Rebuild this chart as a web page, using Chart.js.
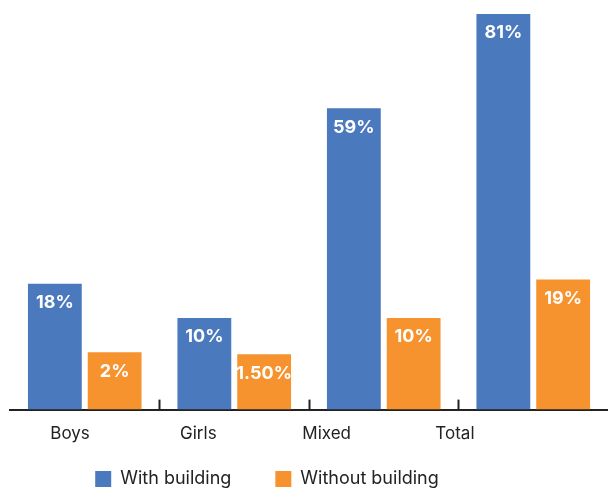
<!DOCTYPE html>
<html>
<head>
<meta charset="utf-8">
<script src="https://cdn.jsdelivr.net/npm/chart.js@4.4.1/dist/chart.umd.min.js"></script>
<style>
  html, body { margin: 0; padding: 0; background: #fff; overflow: hidden; }
  #wrap { width: 608px; height: 542px; }
</style>
</head>
<body>
<div id="wrap"><canvas id="myChart"></canvas></div>
<script>
const categories = ['Boys', 'Girls', 'Mixed', 'Total'];
const withBuilding = [18, 10, 59, 81];
const withoutBuilding = [2, 1.5, 10, 19];
const withLabels = ['18%', '10%', '59%', '81%'];
const withoutLabels = ['2%', '1.50%', '10%', '19%'];

// the bars in the original stand on a floor below zero
const yMin = -11.4;
const yMax = 81;
// category names sit on a tighter spacing than the bars
const labelAxisMin = -0.468;
const labelAxisMax = 4.193;

const FONT = 'Inter';
Chart.defaults.font.family = FONT;
Chart.defaults.color = '#222';

// white value labels inside the top of each bar
const barLabels = {
    id: 'barLabels',
    afterDatasetsDraw(chart) {
        const ctx = chart.ctx;
        ctx.save();
        ctx.font = 'bold 18px ' + FONT;
        ctx.fillStyle = '#fff';
        ctx.textAlign = 'center';
        ctx.textBaseline = 'middle';
        chart.data.datasets.forEach((ds, i) => {
            chart.getDatasetMeta(i).data.forEach((bar, j) => {
                ctx.fillText(ds.valueLabels[j], bar.x, bar.y + 19);
            });
        });
        ctx.restore();
    }
};

// legend is off-centre to the left (and tighter to the labels) in the original
const legendShift = {
    id: 'legendShift',
    afterLayout(chart) {
        chart.legend.left -= 42;
        chart.legend.right -= 42;
        chart.legend.top -= 34;
    }
};

new Chart(document.getElementById('myChart'), {
    type: 'bar',
    plugins: [barLabels, legendShift],
    data: {
        labels: categories,
        datasets: [{
            label: 'With building',
            data: withBuilding,
            valueLabels: withLabels,
            backgroundColor: '#4a79bd',
            base: yMin
        }, {
            label: 'Without building',
            data: withoutBuilding,
            valueLabels: withoutLabels,
            backgroundColor: '#f7932f',
            base: yMin
        }]
    },
    options: {
        responsive: true,
        maintainAspectRatio: false,
        animation: false,
        layout: { padding: { top: 14, left: 10, right: 0, bottom: 0 } },
        plugins: {
            tooltip: { enabled: false },
            legend: {
                position: 'bottom',
                labels: {
                    boxWidth: 16,
                    boxHeight: 16,
                    padding: 44,
                    font: { size: 18 },
                    color: '#222'
                }
            }
        },
        scales: {
            y: { display: false, min: yMin, max: yMax },
            x: {
                ticks: { display: false },
                grid: {
                    offset: true,
                    drawOnChartArea: false,
                    drawTicks: true,
                    tickLength: -10,
                    tickWidth: 2,
                    // only the dividers between groups, not the two ends
                    tickColor: (c) => (c.type !== 'tick' || c.index === 0) ? 'rgba(0,0,0,0)' : '#222'
                },
                border: { display: true, width: 2, color: '#222' }
            },
            x2: {
                type: 'linear',
                position: 'bottom',
                offset: false,
                min: labelAxisMin,
                max: labelAxisMax,
                afterBuildTicks: (axis) => {
                    axis.ticks = categories.map((c, i) => ({ value: i }));
                },
                ticks: {
                    callback: (v) => categories[v],
                    autoSkip: false,
                    maxRotation: 0,
                    padding: 16,
                    font: { size: 17 },
                    color: '#222'
                },
                grid: { display: false, offset: false },
                border: { display: false }
            }
        }
    }
});
</script>
</body>
</html>
